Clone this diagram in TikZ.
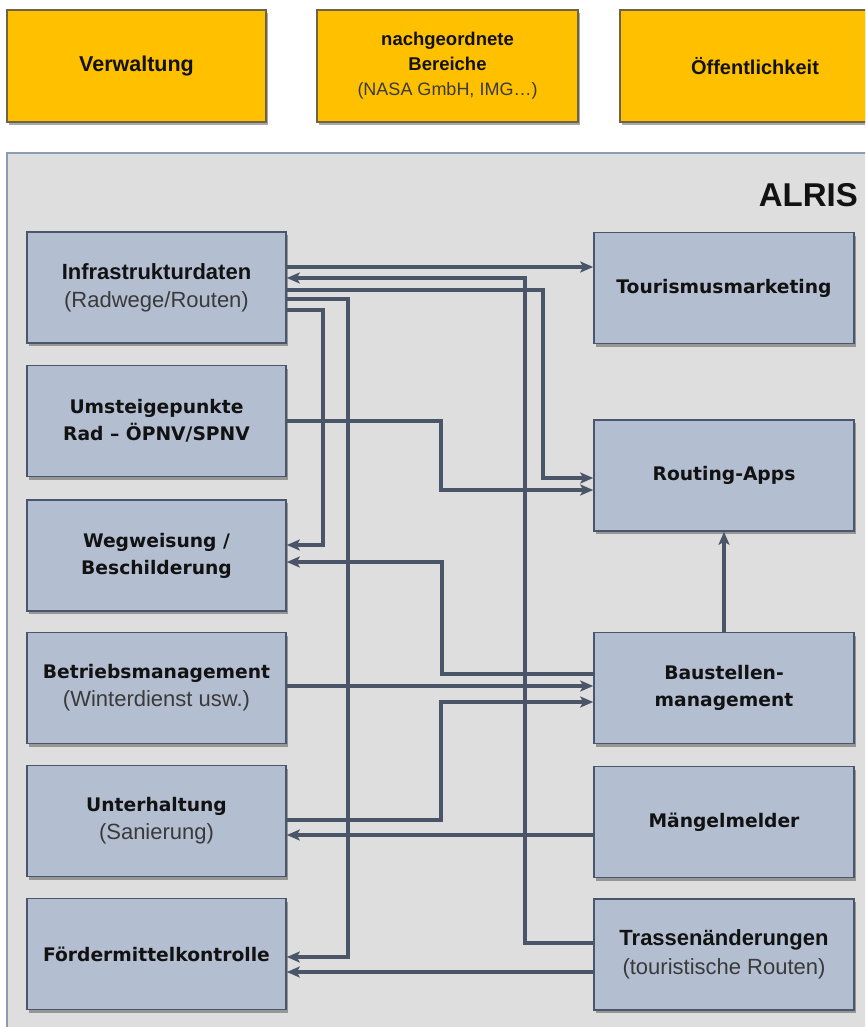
\documentclass[tikz,border=0pt]{standalone}
\usepackage{fontspec}
\usetikzlibrary{arrows.meta,shadows}
\newfontfamily\arialf{Liberation Sans}
\newfontfamily\verdf{DejaVu Sans}
\definecolor{gold}{HTML}{FFC000}
\definecolor{goldline}{HTML}{6E6247}
\definecolor{panelfill}{HTML}{DEDEDE}
\definecolor{panelline}{HTML}{8C9BB0}
\definecolor{boxfill}{HTML}{B3BED1}
\definecolor{boxline}{HTML}{4A566B}
\definecolor{linecol}{HTML}{4A5567}
\definecolor{txtdark}{HTML}{121212}
\definecolor{txtsub}{HTML}{3A3A3A}
\newcommand\ttlA{\arialf\bfseries\fontsize{22}{28}\selectfont\color{txtdark}}
\newcommand\ttlV{\verdf\bfseries\fontsize{18.7}{27}\selectfont\color{txtdark}}
\newcommand\subA{\arialf\fontsize{22}{28}\selectfont\color{txtsub}}
\newcommand\topB{\arialf\bfseries\fontsize{20}{25}\selectfont\color{txtdark}}
\newcommand\topS{\arialf\fontsize{18}{25}\selectfont\color{txtsub}}
\begin{document}
\begin{tikzpicture}[x=1pt,y=-1pt,
  box/.style={draw=boxline, fill=boxfill, line width=1.6pt, minimum width=259pt,
    minimum height=111pt, inner sep=0pt, align=center,
    drop shadow={shadow xshift=1.5pt, shadow yshift=-3pt, opacity=0.45, fill=black!75}},
  topbox/.style={box, fill=gold, draw=goldline, minimum height=112pt},
  conn/.style={draw=linecol, line width=3.2pt,
    -{Stealth[length=13pt,width=11pt,inset=3pt]}}]
\useasboundingbox (0,0) rectangle (865,1027);
\clip (0,0) rectangle (865,1027);
\fill[white] (0,0) rectangle (865,1027);

% top boxes
\node[topbox, minimum width=259pt] (verw) at (136.5,66)
  {\arialf\bfseries\fontsize{21.5}{25}\selectfont\color{txtdark}Verwaltung};
\node[topbox, minimum width=261pt, font=\fontsize{18}{25}\selectfont] (nach) at (447.5,66)
  {{\arialf\bfseries\fontsize{18.5}{25}\selectfont\color{txtdark}nachgeordnete}\\
   {\arialf\bfseries\fontsize{18.5}{25}\selectfont\color{txtdark}Bereiche}\\
   {\topS (NASA GmbH, IMG…)}};
\node[topbox, minimum width=270pt] (oeff) at (755,66) {\topB Öffentlichkeit};

% panel
\draw[draw=panelline, fill=panelfill, line width=1.5pt] (7,153) rectangle (900,1060);
\node[anchor=east, inner sep=0pt, font=\arialf\bfseries\fontsize{33}{36}\selectfont, text=txtdark]
  (alris) at (858,195) {ALRIS};

% left boxes
\node[box, font=\fontsize{22}{28}\selectfont] (infra) at (156.5,287.5)
  {{\ttlA Infrastrukturdaten}\\{\subA (Radwege/Routen)}};
\node[box, font=\ttlV] (umst) at (156.5,421) {Umsteigepunkte\\Rad – ÖPNV/SPNV};
\node[box, font=\ttlV] (weg) at (156.5,555.5) {Wegweisung /\\Beschilderung};
\node[box, font=\fontsize{22}{28}\selectfont] (betr) at (156.5,688)
  {{\ttlV Betriebsmanagement}\\{\subA (Winterdienst usw.)}};
\node[box, font=\fontsize{22}{28}\selectfont] (unt) at (156.5,821)
  {{\ttlV Unterhaltung}\\{\subA (Sanierung)}};
\node[box, font=\ttlV] (foer) at (156.5,954) {Fördermittelkontrolle};

% right boxes
\node[box, minimum width=260pt, font=\ttlV] (tour) at (724,288) {Tourismusmarketing};
\node[box, minimum width=260pt, font=\ttlV] (rout) at (724,475.5) {Routing-Apps};
\node[box, minimum width=260pt, font=\ttlV] (baus) at (724,688) {Baustellen-\\management};
\node[box, minimum width=260pt, font=\ttlV] (maen) at (724,822) {Mängelmelder};
\node[box, minimum width=260pt, font=\fontsize{22}{29}\selectfont] (tras) at (724,954.5)
  {{\ttlA Trassenänderungen}\\{\subA (touristische Routen)}};

% helper coordinates
\coordinate (h1) at (0,267);
\coordinate (k2) at (525,278);
\coordinate (h2) at (0,943);
\coordinate (h3) at (0,290);
\coordinate (k3) at (543,478);
\coordinate (h4) at (0,299);
\coordinate (k4) at (348,957);
\coordinate (h5) at (0,310);
\coordinate (k5) at (323,545);
\coordinate (k6) at (441,490);
\coordinate (h7) at (0,674);
\coordinate (k7) at (442,562);
\coordinate (h8) at (0,686);
\coordinate (h9) at (0,820);
\coordinate (k9) at (441,702);
\coordinate (h10) at (0,835);
\coordinate (h11) at (0,972);

% connectors
\draw[conn] (infra.east |- h1) -- (tour.west |- h1);
\draw[conn] (tras.west |- h2) -| (k2) -- (infra.east |- k2);
\draw[conn] (infra.east |- h3) -| (k3) -- (rout.west |- k3);
\draw[conn] (infra.east |- h4) -| (k4) -- (foer.east |- k4);
\draw[conn] (infra.east |- h5) -| (k5) -- (weg.east |- k5);
\draw[conn] (umst.east) -| (k6) -- (rout.west |- k6);
\draw[conn] (baus.west |- h7) -| (k7) -- (weg.east |- k7);
\draw[conn] (betr.east |- h8) -- (baus.west |- h8);
\draw[conn] (unt.east |- h9) -| (k9) -- (baus.west |- k9);
\draw[conn] (maen.west |- h10) -- (unt.east |- h10);
\draw[conn] (tras.west |- h11) -- (foer.east |- h11);
\draw[conn] (baus.north) -- (rout.south);
\end{tikzpicture}
\end{document}
